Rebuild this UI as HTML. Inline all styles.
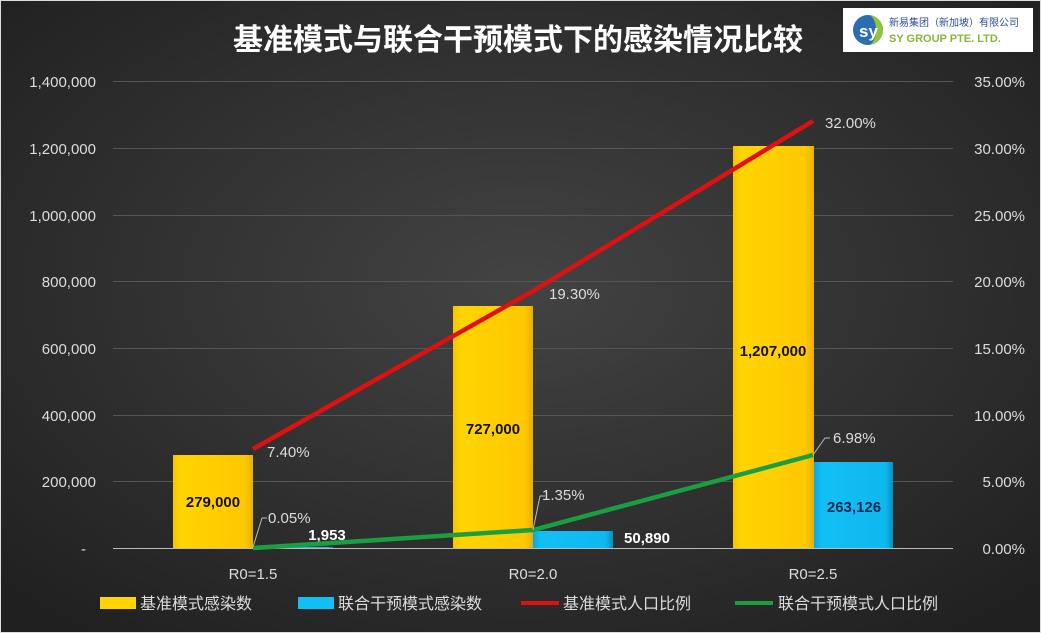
<!DOCTYPE html>
<html><head><meta charset="utf-8"><style>
body{margin:0;width:1041px;height:633px;overflow:hidden;background:#fff}
svg{display:block}
text{font-family:"Liberation Sans","Noto Sans CJK SC",sans-serif}
</style></head><body>
<svg width="1041" height="633" viewBox="0 0 1041 633">
<defs>
<radialGradient id="bg" cx="50%" cy="45%" r="70%">
<stop offset="0" stop-color="#434343"/><stop offset="1" stop-color="#202020"/>
</radialGradient>
<linearGradient id="yb" x1="0" x2="1"><stop offset="0" stop-color="#f5c400"/><stop offset="0.1" stop-color="#ffd400"/><stop offset="0.9" stop-color="#ffc800"/><stop offset="1" stop-color="#e8b000"/></linearGradient>
<linearGradient id="bb" x1="0" x2="1"><stop offset="0" stop-color="#0aa8e0"/><stop offset="0.1" stop-color="#12bff5"/><stop offset="0.9" stop-color="#10b8f0"/><stop offset="1" stop-color="#0690c0"/></linearGradient>
</defs>
<rect x="0" y="0" width="1041" height="633" fill="url(#bg)"/>
<rect x="0.5" y="0.5" width="1040" height="632" fill="none" stroke="#ddd"/>
<text x="518" y="50" fill="#fff" font-size="30" font-weight="bold" text-anchor="middle">基准模式与联合干预模式下的感染情况比较</text>
<rect x="843" y="8" width="190" height="44" fill="#fff"/>
<circle cx="868" cy="30" r="15" fill="#2a6db0"/>
<path d="M868 15 a15 15 0 0 1 0 30 a8 15 0 0 0 0-30z" fill="#8cc63f"/>
<text x="859" y="37" fill="#fff" font-size="17" font-weight="bold">sy</text>
<text x="889" y="26" fill="#2a4d9a" font-size="10">新易集团（新加坡）有限公司</text>
<text x="889" y="42" fill="#8cb43a" font-size="11" font-weight="bold">SY GROUP PTE. LTD.</text>
<g stroke="#555" stroke-width="1">
<line x1="113" x2="953" y1="81.5" y2="81.5"/><line x1="113" x2="953" y1="148.5" y2="148.5"/>
<line x1="113" x2="953" y1="215.5" y2="215.5"/><line x1="113" x2="953" y1="281.5" y2="281.5"/>
<line x1="113" x2="953" y1="348.5" y2="348.5"/><line x1="113" x2="953" y1="415.5" y2="415.5"/>
<line x1="113" x2="953" y1="481.5" y2="481.5"/>
</g>
<g fill="#ddd" font-size="15" text-anchor="end">
<text x="96" y="87">1,400,000</text><text x="96" y="154">1,200,000</text><text x="96" y="221">1,000,000</text>
<text x="96" y="287">800,000</text><text x="96" y="354">600,000</text><text x="96" y="421">400,000</text>
<text x="96" y="487">200,000</text><text x="86" y="554">-</text>
</g>
<g fill="#ddd" font-size="15" text-anchor="end">
<text x="1025" y="87">35.00%</text><text x="1025" y="154">30.00%</text><text x="1025" y="221">25.00%</text>
<text x="1025" y="287">20.00%</text><text x="1025" y="354">15.00%</text><text x="1025" y="421">10.00%</text>
<text x="1025" y="487">5.00%</text><text x="1025" y="554">0.00%</text>
</g>
<rect x="173" y="455" width="80" height="93" fill="url(#yb)"/>
<rect x="253" y="547" width="80" height="1" fill="url(#bb)"/>
<rect x="453" y="306" width="80" height="242" fill="url(#yb)"/>
<rect x="533" y="531" width="80" height="17" fill="url(#bb)"/>
<rect x="733" y="146" width="81" height="402" fill="url(#yb)"/>
<rect x="814" y="462" width="79" height="86" fill="url(#bb)"/>
<line x1="113" x2="953" y1="548.5" y2="548.5" stroke="#bbb"/>
<g font-size="15" font-weight="bold" text-anchor="middle" fill="#111">
<text x="213" y="507">279,000</text><text x="493" y="434">727,000</text><text x="773" y="356">1,207,000</text>
</g>
<g font-size="15" font-weight="bold" text-anchor="middle">
<text x="327" y="540" fill="#fff">1,953</text>
<text x="647" y="543" fill="#fff">50,890</text>
<text x="854" y="512" fill="#0a2a50">263,126</text>
</g>
<polyline points="253,449 533,291 813,121" fill="none" stroke="#e01010" stroke-width="4.5"/>
<polyline points="253,548 533,530 813,455" fill="none" stroke="#1a9e40" stroke-width="4.5"/>
<g stroke="#bbb" fill="none" stroke-width="1">
<polyline points="253,547 262,518 267,518"/><polyline points="533,530 540,496 545,496"/><polyline points="813,455 825,438 830,438"/>
</g>
<g fill="#ddd" font-size="15">
<text x="267" y="457">7.40%</text><text x="549" y="299">19.30%</text><text x="825" y="128">32.00%</text>
<text x="268" y="523">0.05%</text><text x="542" y="500">1.35%</text><text x="833" y="443">6.98%</text>
</g>
<g fill="#ddd" font-size="15" text-anchor="middle">
<text x="253" y="579">R0=1.5</text><text x="533" y="579">R0=2.0</text><text x="813" y="579">R0=2.5</text>
</g>
<rect x="100" y="597" width="36" height="12" fill="#ffd400"/>
<rect x="298" y="597" width="36" height="12" fill="#12bff5"/>
<rect x="521" y="601" width="38" height="4" fill="#e01010"/>
<rect x="735" y="601" width="38" height="4" fill="#1a9e40"/>
<g fill="#ddd" font-size="16">
<text x="140" y="609">基准模式感染数</text><text x="338" y="609">联合干预模式感染数</text>
<text x="563" y="609">基准模式人口比例</text><text x="778" y="609">联合干预模式人口比例</text>
</g>
</svg>
</body></html>
